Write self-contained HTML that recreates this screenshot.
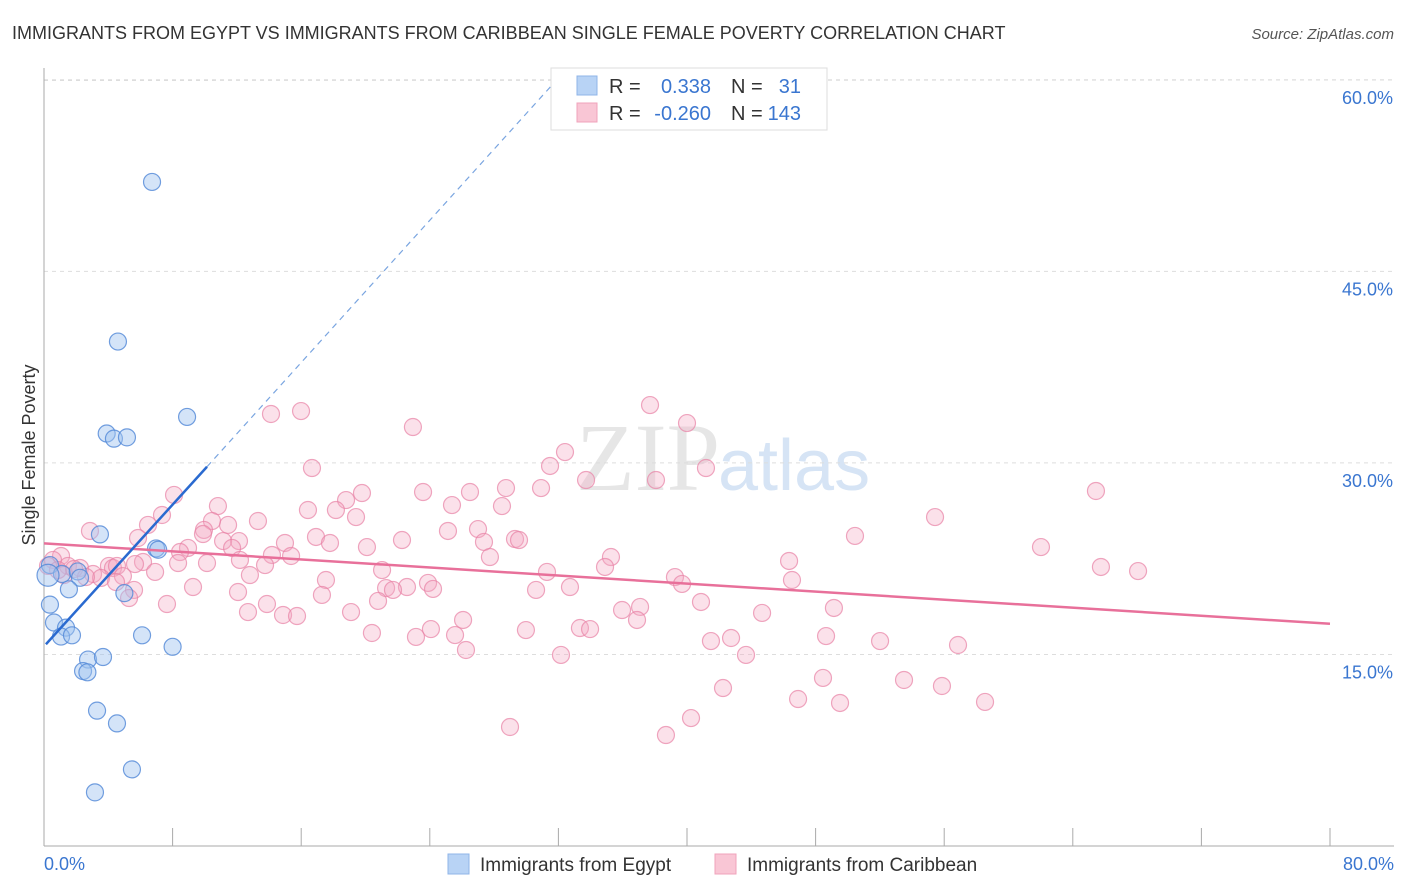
<!DOCTYPE html>
<html><head><meta charset="utf-8"><style>
body{margin:0;background:#fff;font-family:"Liberation Sans",sans-serif;}
svg{display:block}
</style></head><body>
<svg id="chart" width="1406" height="892" font-family="Liberation Sans, sans-serif">
<text x="12" y="39" font-size="18" fill="#333">IMMIGRANTS FROM EGYPT VS IMMIGRANTS FROM CARIBBEAN SINGLE FEMALE POVERTY CORRELATION CHART</text>
<text x="1394" y="39" font-size="15" fill="#555" font-style="italic" text-anchor="end">Source: ZipAtlas.com</text>
<text x="720" y="490" font-size="96" fill="#e6e6e6" font-family="Liberation Serif, serif" text-anchor="end">ZIP</text>
<text x="718" y="490" font-size="72" fill="#d6e4f5">atlas</text>
<text transform="translate(35,455) rotate(-90)" font-size="18" fill="#333" text-anchor="middle">Single Female Poverty</text>
<g id="grid"></g><g id="axes"></g><g id="pts"></g><g id="lines"></g>
<g>
<rect x="551" y="68" width="276" height="62" fill="#fff" stroke="#ddd"/>
<rect x="577" y="76" width="20" height="19" fill="#b8d3f5" stroke="#8fb5e8"/>
<rect x="577" y="103" width="20" height="19" fill="#f9c6d5" stroke="#f0a3bb"/>
<text x="609" y="93" font-size="20" fill="#333">R =</text><text x="711" y="93" font-size="20" fill="#3a76d0" text-anchor="end">0.338</text>
<text x="731" y="93" font-size="20" fill="#333">N =</text><text x="801" y="93" font-size="20" fill="#3a76d0" text-anchor="end">31</text>
<text x="609" y="120" font-size="20" fill="#333">R =</text><text x="711" y="120" font-size="20" fill="#3a76d0" text-anchor="end">-0.260</text>
<text x="731" y="120" font-size="20" fill="#333">N =</text><text x="801" y="120" font-size="20" fill="#3a76d0" text-anchor="end">143</text>
</g>
<g>
<rect x="448" y="854" width="21" height="20" fill="#b8d3f5" stroke="#8fb5e8"/>
<text x="480" y="871" font-size="19" fill="#333">Immigrants from Egypt</text>
<rect x="715" y="854" width="21" height="20" fill="#f9c6d5" stroke="#f0a3bb"/>
<text x="747" y="871" font-size="19" fill="#333">Immigrants from Caribbean</text>
</g>
</svg>
<script>
const yTicks=[15,30,45,60];
const yTickLabels=["15.0%","30.0%","45.0%","60.0%"];
const xTickLabels=["0.0%","80.0%"];
const egyptX=[6.72,4.6,8.9,3.9,4.35,5.16,3.48,6.97,7.1,0.37,1.12,2.1,2.24,1.55,5.0,0.37,0.62,1.37,1.06,1.74,6.1,8.0,2.74,3.67,2.43,2.7,3.3,4.54,5.47,3.17,0.25];
const egyptY=[52.0,39.5,33.6,32.3,31.9,32.0,24.4,23.3,23.2,22.0,21.3,21.5,21.0,20.1,19.8,18.9,17.5,17.1,16.4,16.5,16.5,15.6,14.6,14.8,13.7,13.6,10.6,9.6,6.0,4.2,21.2];
const caribPx=[[271,414],[301,411],[413,427],[650,405],[687,423],[312,468],[550,466],[565,452],[706,468],[586,480],[656,480],[1096,491],[174,495],[218,506],[346,500],[362,493],[423,492],[470,492],[506,488],[541,488],[308,510],[336,510],[452,505],[502,506],[356,517],[148,525],[162,515],[228,525],[258,521],[212,521],[204,530],[935,517],[90,531],[203,534],[138,538],[188,548],[239,541],[223,541],[285,543],[316,537],[330,543],[367,547],[402,540],[448,531],[478,529],[484,542],[515,539],[519,540],[855,536],[1041,547],[272,555],[291,556],[232,548],[180,552],[240,560],[207,563],[490,557],[611,557],[789,561],[143,562],[109,566],[113,568],[117,566],[135,564],[155,572],[178,563],[61,556],[53,560],[48,566],[68,566],[80,568],[93,574],[101,578],[123,576],[382,570],[547,572],[605,567],[675,577],[1101,567],[1138,571],[326,580],[428,583],[682,584],[792,580],[116,582],[134,590],[193,587],[238,592],[386,588],[407,587],[393,590],[433,589],[536,590],[570,587],[322,595],[378,601],[129,598],[167,604],[267,604],[701,602],[248,612],[283,615],[297,616],[351,612],[463,620],[622,610],[640,607],[637,620],[762,613],[834,608],[372,633],[416,637],[431,629],[455,635],[526,630],[580,628],[590,629],[711,641],[731,638],[826,636],[880,641],[958,645],[466,650],[561,655],[746,655],[823,678],[904,680],[723,688],[942,686],[798,699],[840,703],[985,702],[691,718],[510,727],[666,735],[64,575],[58,570],[74,569],[86,577],[250,575],[265,565]];
const caribX=caribPx.map(p=>+((p[0]-44)/16.075).toFixed(2));
const caribY=caribPx.map(p=>+((846-p[1])/12.77).toFixed(2));
const egyptTrend=[[0.12,15.8],[10.14,29.7],[31.9,60]];
const caribTrend=[[0,23.7],[80,17.4]];
const X=v=>44+v*16.075, Y=v=>846-v*12.77;
const NS="http://www.w3.org/2000/svg";
function mk(t,a,p){const e=document.createElementNS(NS,t);for(const k in a)e.setAttribute(k,a[k]);p.appendChild(e);return e;}
const grid=document.getElementById('grid'),axes=document.getElementById('axes'),pts=document.getElementById('pts'),lines=document.getElementById('lines');
yTicks.forEach((t,i)=>{
 const l=mk('line',{x1:44,x2:1394,y1:Y(t),y2:Y(t),stroke:'#ddd','stroke-dasharray':'4,4'},grid);
 
 
 const tx=mk('text',{x:1393,y:Y(t)+24,'font-size':18,fill:'#3a76d0','text-anchor':'end'},axes);
 tx.textContent=yTickLabels[i];
 
 
});
mk('line',{x1:44,x2:1394,y1:Y(60)+0.5-(Y(60)-80),y2:80,stroke:'#ddd','stroke-dasharray':'4,4'},grid);
const ya=mk('line',{x1:44,x2:44,y1:68,y2:846,stroke:'#aaa'},axes);


const xa=mk('line',{x1:44,x2:1394,y1:846,y2:846,stroke:'#aaa'},axes);


for(let i=0;i<=10;i++){
 const tk=mk('line',{x1:X(i*8),x2:X(i*8),y1:828,y2:846,stroke:'#aaa'},axes);
 
 
}
[[0,'start',44],[80,'end',1394]].forEach((d,i)=>{
 const tx=mk('text',{x:d[2],y:870,'font-size':18,fill:'#3a76d0','text-anchor':d[1]},axes);
 tx.textContent=xTickLabels[i];
 
 
});
caribX.forEach((x,i)=>{
 const c=mk('circle',{cx:X(x),cy:Y(caribY[i]),r:8.5,fill:'rgba(244,170,195,0.35)',stroke:'rgba(232,130,165,0.7)','stroke-width':1.2},pts);
 
 
});
egyptX.forEach((x,i)=>{
 const c=mk('circle',{cx:X(x),cy:Y(egyptY[i]),r:i==30?11:8.5,fill:'rgba(160,195,240,0.45)',stroke:'rgba(80,135,215,0.8)','stroke-width':1.2},pts);
 
 
});
const pl=mk('line',{x1:X(caribTrend[0][0]),y1:Y(caribTrend[0][1]),x2:X(caribTrend[1][0]),y2:Y(caribTrend[1][1]),stroke:'#e8709a','stroke-width':2.5},lines);


const bl=mk('line',{x1:X(egyptTrend[0][0]),y1:Y(egyptTrend[0][1]),x2:X(egyptTrend[1][0]),y2:Y(egyptTrend[1][1]),stroke:'#2a6ad0','stroke-width':2.5},lines);


const bd=mk('line',{x1:X(egyptTrend[1][0]),y1:Y(egyptTrend[1][1]),x2:X(egyptTrend[2][0]),y2:Y(egyptTrend[2][1]),stroke:'#7aa5e0','stroke-width':1.2,'stroke-dasharray':'6,5'},lines);


</script>
</body></html>
